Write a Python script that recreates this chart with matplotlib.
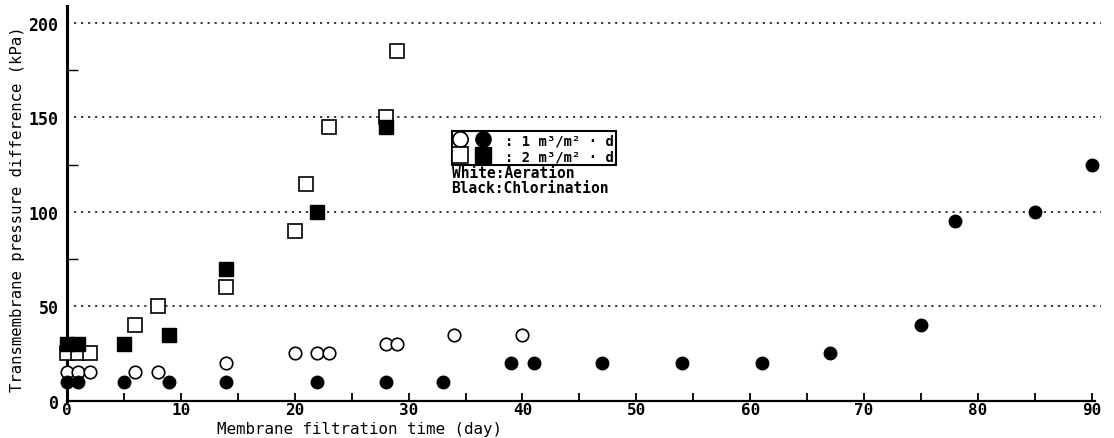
import matplotlib.pyplot as plt
from matplotlib.legend_handler import HandlerTuple
from matplotlib.lines import Line2D

# 1 m3/m2.d, aeration (open circles)
aer1_day = [0, 1, 2, 6, 8, 14, 20, 22, 23, 28, 29, 34, 40]
aer1_tmp = [15, 15, 15, 15, 15, 20, 25, 25, 25, 30, 30, 35, 35]

# 1 m3/m2.d, chlorination (filled circles)
chl1_day = [0, 1, 5, 9, 14, 22, 28, 33, 39, 41, 47, 54, 61, 67, 75, 78, 85, 90]
chl1_tmp = [10, 10, 10, 10, 10, 10, 10, 10, 20, 20, 20, 20, 20, 25, 40, 95, 100, 125]

# 2 m3/m2.d, aeration (open squares)
aer2_day = [0, 1, 2, 6, 8, 14, 20, 21, 23, 28, 29]
aer2_tmp = [25, 25, 25, 40, 50, 60, 90, 115, 145, 150, 185]

# 2 m3/m2.d, chlorination (filled squares)
chl2_day = [0, 1, 5, 9, 14, 22, 28]
chl2_tmp = [30, 30, 30, 35, 70, 100, 145]

x_major = [0, 10, 20, 30, 40, 50, 60, 70, 80, 90]
y_major = [0, 50, 100, 150, 200]

plt.rcParams['font.family'] = ['DejaVu Sans Mono']
plt.rcParams['font.weight'] = 'bold'

fig = plt.figure(figsize=(11.14, 4.39), dpi=100)
ax = fig.add_axes([0.0601, 0.085, 0.9282, 0.899])

ax.set_xlim(0, 90.8)
ax.set_ylim(0, 209)

# dotted grid lines
for y in y_major[1:]:
    ax.axhline(y, color='black', lw=1.1, ls=(0, (1.4, 3.2)), zorder=1)

ms = 9
ax.plot(aer1_day, aer1_tmp, 'o', ms=ms, mfc='white', mec='black', mew=1.2, clip_on=False, zorder=3)
ax.plot(aer2_day, aer2_tmp, 's', ms=ms + 0.5, mfc='white', mec='black', mew=1.2, clip_on=False, zorder=3)
ax.plot(chl1_day, chl1_tmp, 'o', ms=ms, mfc='black', mec='black', clip_on=False, zorder=4)
ax.plot(chl2_day, chl2_tmp, 's', ms=ms + 0.5, mfc='black', mec='black', clip_on=False, zorder=4)

# axes styling
ax.spines['top'].set_visible(False)
ax.spines['right'].set_visible(False)
ax.spines['left'].set_linewidth(2.2)
ax.spines['bottom'].set_linewidth(1.6)
ax.spines['bottom'].set_bounds(0, 90.3)

ax.set_xticks(x_major)
ax.set_xticks(range(5, 90, 10), minor=True)
ax.set_yticks(y_major)
ax.set_yticks([25, 75, 125, 175], minor=True)
ax.tick_params(axis='x', which='both', direction='in', length=6, width=1.3, labelsize=11.5, pad=1)
ax.tick_params(axis='y', which='major', direction='in', length=0, labelsize=12, pad=6)
ax.tick_params(axis='y', which='minor', direction='in', length=8, width=1.0)

ax.set_xlabel('Membrane filtration time (day)', fontsize=11.4)
ax.xaxis.set_label_coords(0.283, -0.052)
ax.set_ylabel('Transmembrane pressure difference (kPa)', fontsize=11.25)
ax.yaxis.set_label_coords(-0.041, 0.487)

# legend
h1 = (Line2D([], [], ls='none', marker='o', ms=11, mfc='white', mec='black', mew=1.2),
      Line2D([], [], ls='none', marker='o', ms=11, mfc='black', mec='black'))
h2 = (Line2D([], [], ls='none', marker='s', ms=11, mfc='white', mec='black', mew=1.2),
      Line2D([], [], ls='none', marker='s', ms=11, mfc='black', mec='black'))
leg = ax.legend([h1, h2], [': 1 m³/m² · d', ': 2 m³/m² · d'],
                handler_map={tuple: HandlerTuple(ndivide=None, pad=0.7)},
                loc='upper left', bbox_to_anchor=(0.372, 0.683), borderaxespad=0,
                fontsize=10, handlelength=2.6, handletextpad=1.1, borderpad=0.15,
                labelspacing=0.15, fancybox=False, framealpha=1, edgecolor='black')
leg.get_frame().set_linewidth(1.5)

ax.text(0.372, 0.597, 'White:Aeration', transform=ax.transAxes, fontsize=10.5, va='top')
ax.text(0.372, 0.558, 'Black:Chlorination', transform=ax.transAxes, fontsize=10.5, va='top')

fig.savefig('out.png', dpi=100)
